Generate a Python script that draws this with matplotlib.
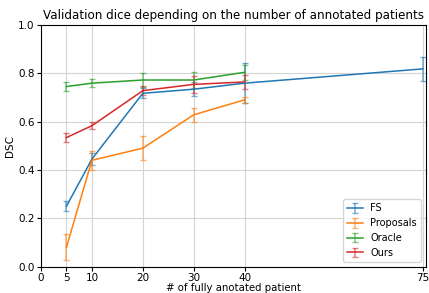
import matplotlib
matplotlib.use("Agg")
from matplotlib import pyplot as plt

# number of fully annotated patients
n_fs = [5, 10, 20, 30, 40, 75]
n_other = [5, 10, 20, 30, 40]

fs_mean = [0.25, 0.445, 0.717, 0.734, 0.759, 0.818]
fs_std = [0.02, 0.025, 0.02, 0.03, 0.084, 0.049]

prop_mean = [0.08, 0.44, 0.49, 0.628, 0.69]
prop_std = [0.054, 0.04, 0.05, 0.03, 0.012]

oracle_mean = [0.745, 0.759, 0.772, 0.772, 0.804]
oracle_std = [0.02, 0.017, 0.03, 0.035, 0.03]

ours_mean = [0.534, 0.583, 0.728, 0.754, 0.764]
ours_std = [0.02, 0.015, 0.02, 0.036, 0.03]

xticks = [0, 5, 10, 20, 30, 40, 75]

fig = plt.figure(figsize=(4.29, 2.93), dpi=100)
ax = fig.add_axes([0.0956, 0.09, 0.897, 0.825])

series = [
    (n_fs, fs_mean, fs_std, "FS", "C0"),
    (n_other, prop_mean, prop_std, "Proposals", "C1"),
    (n_other, oracle_mean, oracle_std, "Oracle", "C2"),
    (n_other, ours_mean, ours_std, "Ours", "C3"),
]
for x, m, s, lab, c in series:
    eb = ax.errorbar(x, m, yerr=s, label=lab, color=c, capsize=2, linewidth=1.1, elinewidth=1.1)
    for cap in eb[1]:
        cap.set_alpha(0.6)
    for bar in eb[2]:
        bar.set_alpha(0.6)

ax.set_xlim(0, 75.6)
ax.set_ylim(0, 1.0)
ax.set_xticks(xticks)
ax.set_yticks([0, 0.2, 0.4, 0.6, 0.8, 1.0])
ax.tick_params(labelsize=7.5, length=3, pad=1.5)
ax.grid(True, color="#d5d5d5", linewidth=0.8)
ax.set_axisbelow(True)
ax.set_title("Validation dice depending on the number of annotated patients", fontsize=8.6, pad=4)
ax.set_xlabel("# of fully anotated patient", fontsize=7.3, labelpad=0)
ax.set_ylabel("DSC", fontsize=7.5, labelpad=2)
ax.legend(loc="lower right", fontsize=7, handlelength=1.6)

fig.savefig("out.png", dpi=100)
